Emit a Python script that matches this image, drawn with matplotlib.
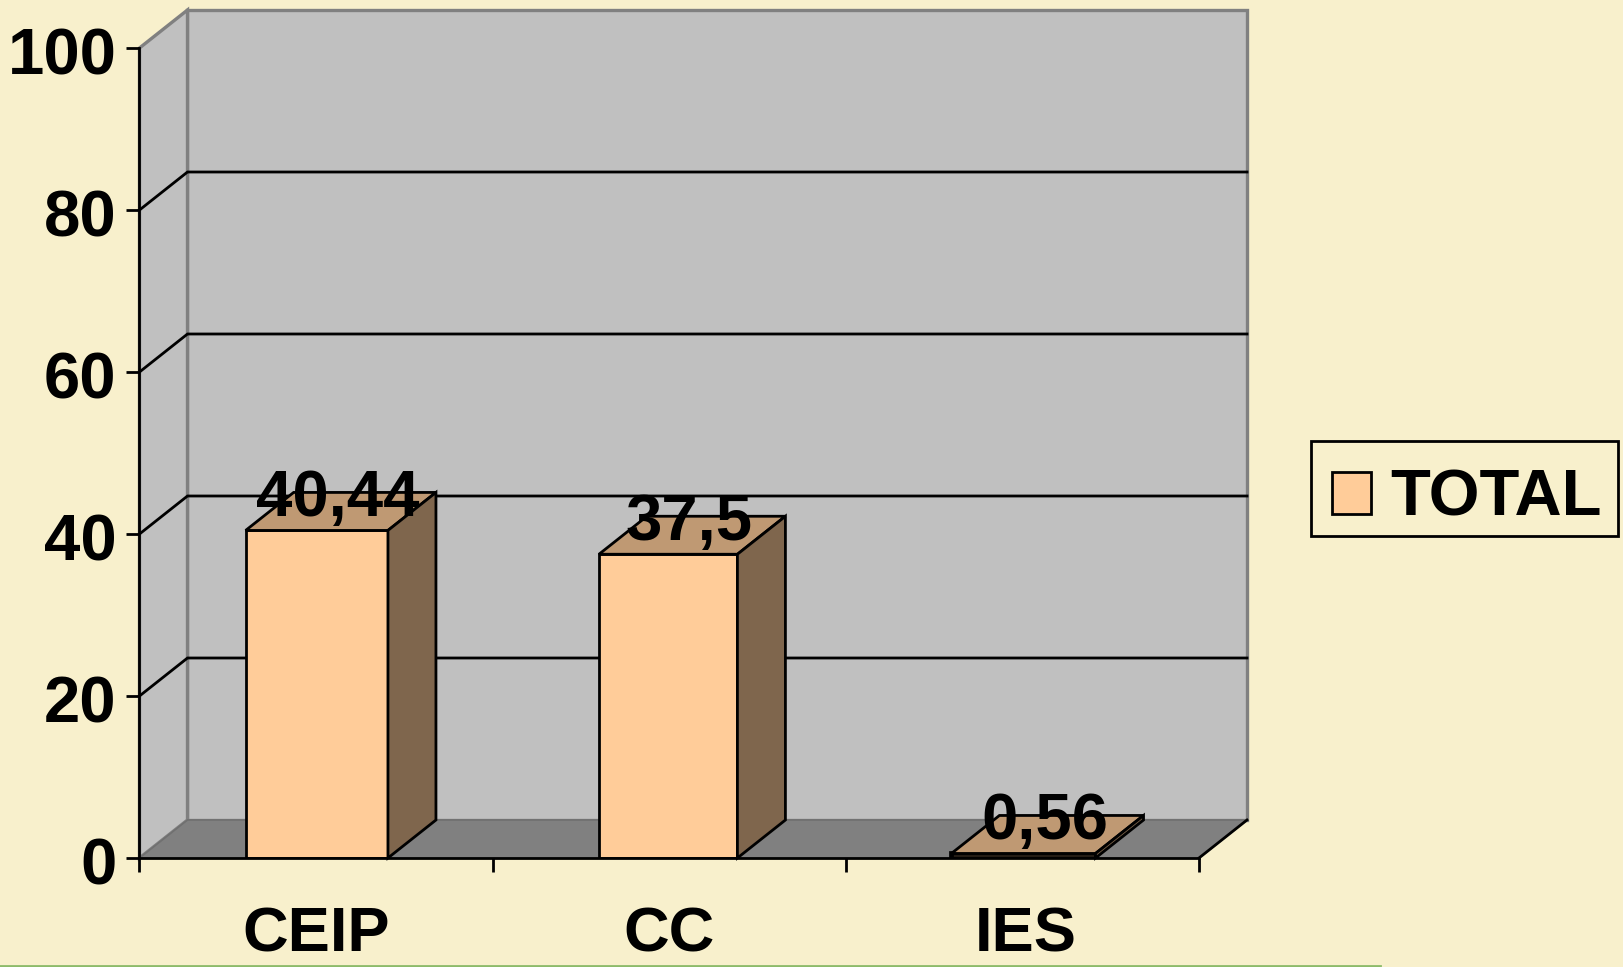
import matplotlib
matplotlib.use("Agg")
import matplotlib.pyplot as plt
from matplotlib.patches import Polygon, Patch, Rectangle
from matplotlib.transforms import ScaledTranslation

categories = ["CEIP", "CC", "IES"]
values = [40.44, 37.5, 0.56]
value_labels = ["40,44", "37,5", "0,56"]
y_ticks = [0, 20, 40, 60, 80, 100]
series_name = "TOTAL"

BG = "#F8F0CC"
WALL = "#C0C0C0"
WALL_EDGE = "#808080"
FLOOR = "#808080"
BAR = "#FFCC99"
BAR_TOP = "#BF9973"
BAR_SIDE = "#7F664D"

W, H = 1624, 967
plt.rcParams["font.family"] = ["Liberation Sans", "DejaVu Sans"]
plt.rcParams["font.weight"] = "bold"

fig = plt.figure(figsize=(W / 100, H / 100), dpi=100, facecolor=BG)

#Front plane of the chart box, everything else is offset from it
ax = fig.add_axes([139.5 / W, 1 - 858 / H, (1199 - 139.5) / W, 810 / H])
ax.set_xlim(0, 3)
ax.set_ylim(0, 100)
ax.patch.set_visible(False)

#Depth of the fake 3d box in data units
dx = 48 / (1059.5 / 3)
dy = 38 / 8.1

#Walls and floor
back = Polygon([(dx, dy), (3 + dx, dy), (3 + dx, 100 + dy), (dx, 100 + dy)],
               fc=WALL, ec=WALL_EDGE, lw=2.4, zorder=1, clip_on=False, joinstyle="miter")
side = Polygon([(0, 0), (dx, dy), (dx, 100 + dy), (0, 100)],
               fc=WALL, ec=WALL_EDGE, lw=2.4, zorder=1, clip_on=False, joinstyle="miter")
floor = Polygon([(0, 0), (3, 0), (3 + dx, dy), (dx, dy)],
                fc=FLOOR, ec="#707070", lw=1.2, zorder=1.1, clip_on=False)
ax.add_patch(back)
ax.add_patch(side)
ax.add_patch(floor)
ax.plot([3, 3 + dx], [0, dy], color="black", lw=2, zorder=1.2, clip_on=False)

#Gridlines run along the side wall and then the back wall
for v in y_ticks[1:-1]:
    ax.plot([0, dx, 3 + dx], [v, v + dy, v + dy], color="black", lw=2, zorder=1.5,
            clip_on=False, solid_joinstyle="miter")

#Bars, the last one is so flat that its front is only the outline
widths = [0.403, 0.392, 0.408]
positions = [0.502, 1.497, 2.503]
ax.bar(positions, values, width=widths, color=BAR, edgecolor="black",
       linewidth=[2, 2, 3.4], zorder=3)
for x, v, width in zip(positions, values, widths):
    l, r = x - width / 2, x + width / 2
    ax.add_patch(Polygon([(l, v), (r, v), (r + dx, v + dy), (l + dx, v + dy)],
                         fc=BAR_TOP, ec="black", lw=2, zorder=3, clip_on=False))
    ax.add_patch(Polygon([(r, 0), (r + dx, dy), (r + dx, v + dy), (r, v)],
                         fc=BAR_SIDE, ec="black", lw=2, zorder=3, clip_on=False))

#Value labels sit on the top face of each bar
for x, v, lab in zip(positions, values, value_labels):
    ax.annotate(lab, (x + dx / 2, v), xytext=(-2, 10.5), textcoords="offset points",
                ha="center", va="baseline", fontsize=47, fontweight="bold",
                color="black", zorder=5, annotation_clip=False)

#Axes
for s in ["top", "right"]:
    ax.spines[s].set_visible(False)
for s in ["left", "bottom"]:
    ax.spines[s].set_linewidth(2)
    ax.spines[s].set_zorder(4)

ax.set_yticks(y_ticks)
ax.set_yticklabels([str(t) for t in y_ticks], fontsize=47, fontweight="bold")
ax.tick_params(axis="y", length=9.5, width=2, pad=7)
shift = ScaledTranslation(0, -2.5 / 72, fig.dpi_scale_trans)
for lab in ax.get_yticklabels():
    lab.set_transform(lab.get_transform() + shift)

ax.set_xticks([0, 1, 2, 3])
ax.set_xticklabels([])
ax.set_xticks([0.5, 1.5, 2.51], minor=True)
ax.set_xticklabels(categories, minor=True, fontsize=45.5, fontweight="bold")
ax.tick_params(axis="x", which="major", length=10, width=2)
ax.tick_params(axis="x", which="minor", length=0, pad=34)

#Legend, frame drawn apart because the text sits low in its box
fig.add_artist(Rectangle((1311 / W, 1 - 535.5 / H), 307 / W, 94.5 / H, fc="none", ec="black",
                         lw=2, transform=fig.transFigure))
handle = Patch(fc=BAR, ec="black", lw=2, label=series_name)
leg = fig.legend(handles=[handle], loc="center", bbox_to_anchor=(1467 / W, 1 - 499 / H),
                 fontsize=47, frameon=False,
                 handlelength=0.6, handleheight=0.62, handletextpad=0.3,
                 borderpad=0.3, borderaxespad=0)

#Thin green rule along the bottom edge of the slide
fig.add_artist(plt.Line2D([0, 1380 / W], [1 - 965.5 / H] * 2, color="#8DBB6A", lw=2,
                          transform=fig.transFigure))

fig.savefig("out.png", dpi=100, facecolor=BG)
